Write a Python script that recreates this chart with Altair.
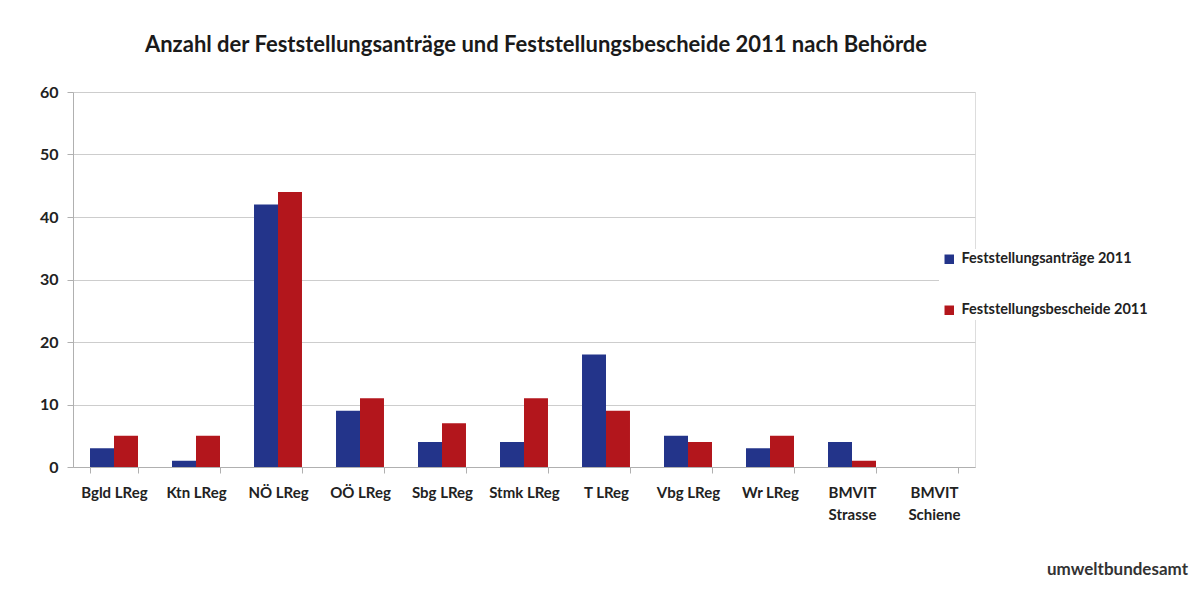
import altair as alt
import pandas as pd

categories = ["Bgld LReg", "Ktn LReg", "NÖ LReg", "OÖ LReg", "Sbg LReg", "Stmk LReg",
              "T LReg", "Vbg LReg", "Wr LReg", "BMVIT Strasse", "BMVIT Schiene"]
antraege = [3, 1, 42, 9, 4, 4, 18, 5, 3, 4, 0]
bescheide = [5, 5, 44, 11, 7, 11, 9, 4, 5, 1, 0]
series_names = ["Feststellungsanträge 2011", "Feststellungsbescheide 2011"]
series_colors = ["#23348a", "#b3161c"]
title_text = "Anzahl der Feststellungsanträge und Feststellungsbescheide 2011 nach Behörde"
brand_text = "umweltbundesamt"

rows = []
for c, a, b in zip(categories, antraege, bescheide):
    rows.append({"Behörde": c, "Serie": series_names[0], "Anzahl": a})
    rows.append({"Behörde": c, "Serie": series_names[1], "Anzahl": b})
df = pd.DataFrame(rows)

FONT = "Lato"

bars = alt.Chart(df).mark_bar().encode(
    x=alt.X("Behörde:N", sort=categories,
            scale=alt.Scale(paddingInner=0.415, paddingOuter=0.2075),
            axis=alt.Axis(title=None, labelAngle=0, tickBand="extent", ticks=True, tickSize=6,
                          tickColor="#b0b0b0", domainColor="#b0b0b0", labelPadding=12,
                          labelFont=FONT, labelFontWeight="bold", labelFontSize=15,
                          labelColor="#222222", labelLineHeight=22, labelLimit=0,
                          labelExpr="indexof(datum.label, 'BMVIT') == 0 ? split(datum.label, ' ') : datum.label")),
    xOffset=alt.XOffset("Serie:N", sort=series_names),
    y=alt.Y("Anzahl:Q", scale=alt.Scale(domain=[0, 60]),
            axis=alt.Axis(title=None, values=[0, 10, 20, 30, 40, 50, 60], grid=True,
                          gridColor="#cdcdcd", domainColor="#b0b0b0", tickColor="#b0b0b0",
                          tickSize=6, labelPadding=9, labelFont=FONT, labelFontWeight="bold",
                          labelFontSize=16, labelColor="#222222")),
    color=alt.Color("Serie:N", sort=series_names,
                    scale=alt.Scale(domain=series_names, range=series_colors),
                    legend=alt.Legend(title=None, orient="none", legendX=866, legendY=157,
                                      symbolType="square", symbolSize=90, symbolStrokeWidth=0,
                                      labelFont=FONT, labelFontWeight="bold", labelFontSize=14.5,
                                      labelColor="#222222", rowPadding=36, labelOffset=5,
                                      labelLimit=0, fillColor="white", padding=3)),
)

brand = alt.Chart(pd.DataFrame({"t": [brand_text]})).mark_text(
    font=FONT, fontWeight="bold", fontSize=17, color="#333333", align="right", baseline="middle"
).encode(text="t:N", x=alt.value(1115), y=alt.value(478))

chart = alt.layer(bars, brand).properties(
    width=902, height=375,
    title=alt.TitleParams(title_text, font=FONT, fontSize=22, fontWeight="bold",
                          color="#1a1a1a", anchor="middle", offset=27, dx=12),
    autosize=alt.AutoSizeParams(type="none"),
    padding={"left": 65, "top": 84, "right": 216, "bottom": 114},
).configure_view(stroke=None).configure(background="white")

chart.save("out.html", embed_options={"renderer": "svg", "actions": False})
